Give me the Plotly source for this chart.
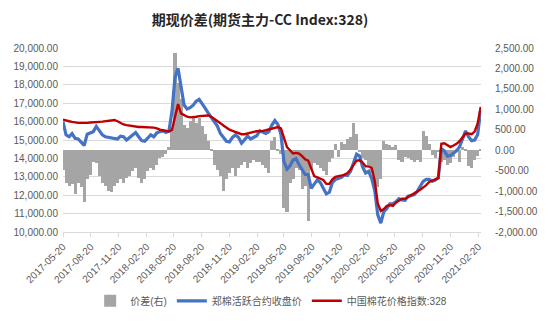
import pandas as pd
import plotly.graph_objects as go

# 10-day sampling grid over the charted period
dates = pd.date_range("2017-05-20", periods=139, freq="10D")

# 价差 (right axis): futures main contract minus CC Index 328
spread = [
    -476, -792, -871, -831, -1068, -792, -910, -1266, -713, -594,
    -278, -318, -634, -792, -871, -989, -1013, -871, -792, -713,
    -792, -673, -634, -515, -437, -673, -792, -713, -515, -437,
    -476, -358, -200, -160, -81, 77, 471, 2366, 1656, 1261,
    629, 550, 708, 787, 669, 787, 590, 392, 234, 37,
    -358, -476, -634, -989, -713, -555, -437, -634, -437, -358,
    -278, -437, -318, -239, -278, -278, -358, -437, -555, 235,
    314, 37, -81, -1423, -1502, -792, -713, -437, -476, -950,
    -871, -1739, -476, -318, -358, -437, -515, -594, -278, -200,
    156, -160, 195, 156, 274, 314, 669, 392, -42, -200,
    -239, -358, -555, -792, -910, -713, 235, 156, 116, 77,
    116, -239, -278, -160, -200, -239, -278, -239, -278, 471,
    353, 156, -121, -200, -42, -278, -239, -358, -318, -160,
    37, -278, 77, 37, -397, -437, -239, -150, 30,
]

# 郑棉活跃合约收盘价 (left axis)
futures_close = [
    16000, 15280, 15175, 15350, 15090, 15055, 14880, 14700, 15315, 15405,
    15455, 15740, 15495, 15280, 15175, 15140, 15105, 15090, 15055, 15210,
    15175, 15000, 15140, 15280, 15405, 15175, 14965, 14930, 15105, 15280,
    15175, 15385, 15455, 15495, 15405, 15495, 16545, 18400, 18900, 17860,
    16900, 16685, 16755, 16895, 17105, 17210, 16930, 16720, 16460, 16230,
    15985, 15755, 15350, 15105, 14930, 14895, 15140, 15280, 15140, 14825,
    15055, 15210, 15055, 15140, 15230, 15495, 15405, 15350, 15455, 15810,
    16055, 15845, 15315, 13825, 13420, 13600, 13915, 13985, 13650, 13350,
    13125, 13125, 12370, 12600, 12825, 12685, 12370, 12070, 12160, 12685,
    12860, 12915, 12965, 13105, 13070, 13300, 13775, 14230, 14125, 13530,
    13210, 13300, 12895, 12245, 10930, 10480, 11105, 11280, 11530, 11545,
    11635, 11810, 11740, 11720, 11950, 11985, 12020, 12195, 12510, 12755,
    12860, 12860, 12755, 12825, 12950, 14525, 14405, 14125, 14160, 14300,
    14405, 14615, 15055, 15495, 15175, 14965, 15000, 15300, 16650,
]

# 中国棉花价格指数:328 (left axis)
cc_index = [
    16110, 16050, 16020, 15985, 15950, 15930, 15930, 15915, 15930, 15950,
    15950, 15965, 15985, 16000, 16020, 16020, 16070, 16090, 16020, 15930,
    15845, 15810, 15775, 15740, 15720, 15705, 15705, 15705, 15685, 15670,
    15670, 15635, 15560, 15530, 15495, 15460, 15550, 16300, 16950, 16450,
    16335, 16265, 16230, 16230, 16265, 16300, 16315, 16335, 16335, 16265,
    16160, 16055, 15915, 15790, 15670, 15560, 15495, 15425, 15370, 15315,
    15315, 15370, 15405, 15440, 15475, 15475, 15495, 15530, 15580, 15615,
    15670, 15705, 15635, 15140, 14615, 14440, 14265, 14300, 14265, 14125,
    13950, 13880, 13475, 13035, 12965, 12915, 12825, 12615, 12615, 12860,
    13000, 13035, 13070, 13105, 13210, 13390, 13650, 13880, 13900, 13775,
    13565, 13565, 13475, 12775, 11545, 11140, 11245, 11420, 11460, 11420,
    11600, 11720, 11810, 11810, 11895, 11985, 12070, 12195, 12300, 12420,
    12545, 12720, 12810, 12860, 12930, 14790, 14825, 14700, 14615, 14700,
    14790, 14930, 15140, 15350, 15350, 15315, 15460, 15900, 16800,
]

tick_dates = [
    "2017-05-20", "2017-08-20", "2017-11-20", "2018-02-20", "2018-05-20",
    "2018-08-20", "2018-11-20", "2019-02-20", "2019-05-20", "2019-08-20",
    "2019-11-20", "2020-02-20", "2020-05-20", "2020-08-20", "2020-11-20",
    "2021-02-20",
]
left_ticks = list(range(10000, 20001, 1000))
right_ticks = list(range(-2000, 2501, 500))

FONT = "Liberation Sans, Noto Sans CJK SC, sans-serif"
TICK_COLOR = "#595959"

fig = go.Figure()
fig.add_trace(go.Bar(
    x=dates, y=spread, name="价差(右)", yaxis="y",
    marker=dict(color="#a5a5a5", line=dict(width=0)),
))
fig.add_trace(go.Scatter(
    x=dates, y=futures_close, name="郑棉活跃合约收盘价", yaxis="y2",
    mode="lines", line=dict(color="#4472c4", width=3.2),
))
fig.add_trace(go.Scatter(
    x=dates, y=cc_index, name="中国棉花价格指数:328", yaxis="y2",
    mode="lines", line=dict(color="#c00000", width=2.4),
))

fig.update_layout(
    width=550, height=327,
    margin=dict(l=63, r=65, t=48, b=89),
    paper_bgcolor="white", plot_bgcolor="white",
    font=dict(family=FONT, size=10, color=TICK_COLOR),
    bargap=0,
    title=dict(
        text="期现价差(期货主力-CC Index:328)",
        font=dict(family="Noto Sans CJK SC, sans-serif", size=14, color="#262626", weight=700),
        x=260 / 550, xref="container", xanchor="center",
        y=1 - 20 / 327, yref="container", yanchor="middle",
    ),
    xaxis=dict(
        type="date",
        range=["2017-05-20", "2021-03-01"],
        tickvals=tick_dates, tickformat="%Y-%m-%d", tickangle=-45,
        showgrid=False, zeroline=False,
        showline=True, linecolor="#d9d9d9", linewidth=1,
        ticks="outside", ticklen=4, tickcolor="#d9d9d9",
        tickfont=dict(size=10, color=TICK_COLOR),
    ),
    yaxis=dict(
        side="right", range=[-2000, 2500],
        tickvals=right_ticks,
        ticktext=[f"{v:,.2f}" for v in right_ticks],
        showgrid=False, zeroline=False, showline=False,
        ticklabelstandoff=13,
        tickfont=dict(size=10, color=TICK_COLOR),
    ),
    yaxis2=dict(
        overlaying="y", side="left", range=[10000, 20000],
        tickvals=left_ticks,
        ticktext=[f"{v:,.2f}" for v in left_ticks],
        showgrid=True, gridcolor="#d9d9d9", gridwidth=1,
        zeroline=False, showline=False,
        ticklabelstandoff=4,
        tickfont=dict(size=10, color=TICK_COLOR),
    ),
    legend=dict(
        orientation="h", x=0.498, xanchor="center",
        y=-0.374, yanchor="middle",
        font=dict(size=10, color=TICK_COLOR),
        bgcolor="rgba(0,0,0,0)",
    ),
    showlegend=True,
)

fig.write_html("out.html")
